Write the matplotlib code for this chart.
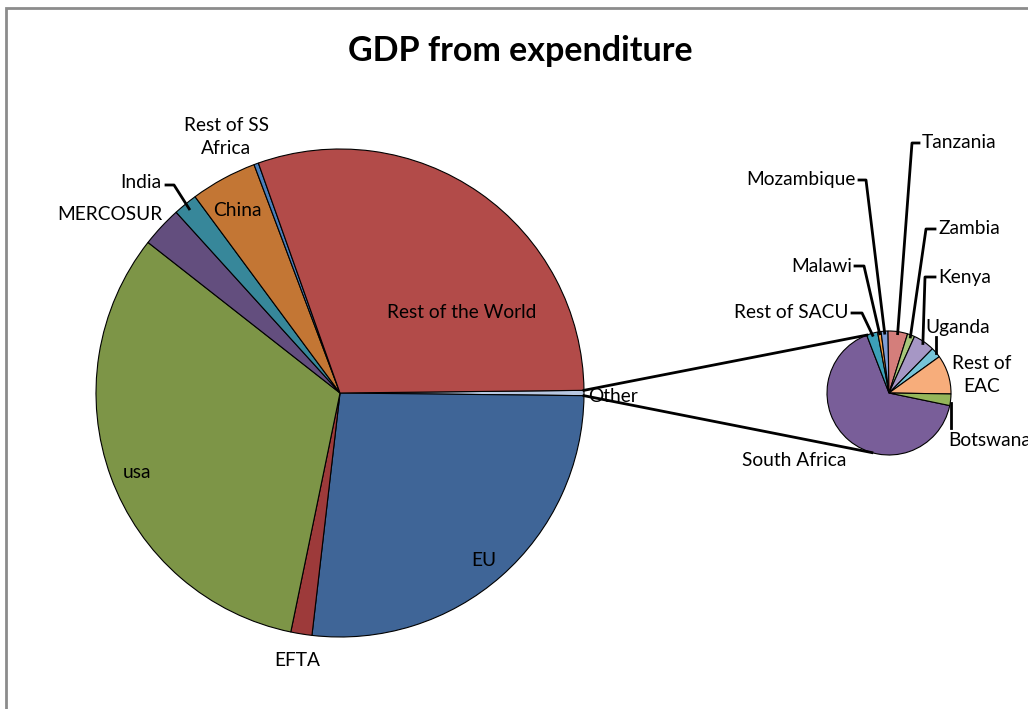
import numpy as np
import matplotlib.pyplot as plt
from matplotlib.patches import Rectangle

plt.rcParams['font.family'] = ['Lato', 'DejaVu Sans']

# Share of world GDP (%), main pie; "Other" is broken out in the small pie
main_labels = ['Other', 'EU', 'EFTA', 'usa', 'MERCOSUR', 'India', 'China',
               'Rest of SS Africa', 'Rest of the World']
main_share = [0.35, 26.7, 1.4, 32.4, 2.7, 1.6, 4.4, 0.3, 30.3]
main_colors = ['#B8C8E2', '#3F6597', '#9D3A3A', '#7D9547', '#634E7E',
               '#37879A', '#C37634', '#4A7EBB', '#B24B49']

# Breakdown of "Other" (% of the group)
sec_labels = ['South Africa', 'Rest of SACU', 'Malawi', 'Mozambique', 'Tanzania',
              'Zambia', 'Kenya', 'Uganda', 'Rest of\nEAC', 'Botswana']
sec_share = [65.9, 2.9, 0.9, 1.8, 5.1, 1.9, 5.6, 2.7, 10.2, 3.0]
sec_colors = ['#795E99', '#3CA0B8', '#F49B3F', '#7E9ED6', '#D47E7B',
              '#A7C67A', '#A697C5', '#76C4D8', '#F7AD7B', '#94B65A']

W, H = 1028, 709
fig = plt.figure(figsize=(W / 100, H / 100), dpi=100)
ax = fig.add_axes([0, 0, 1, 1])


def Y(y):
    # pixel row measured from the top
    return H - y


# chart frame
ax.add_patch(Rectangle((6, Y(1000)), 1100, 1000 - 8, fill=False,
                       edgecolor='#8C8C8C', lw=2))

ax.text(520, Y(51), 'GDP from expenditure', ha='center', va='center',
        fontsize=24.5, fontweight='bold')

# main pie
c1, r1 = (340, Y(393)), 244
start1 = main_share[0] / sum(main_share) * 360 / 2
w1, _ = ax.pie(main_share, colors=main_colors, center=c1, radius=r1,
               startangle=start1, counterclock=False, frame=True,
               wedgeprops=dict(edgecolor='black', linewidth=0.8))

# secondary pie
c2, r2 = (889, Y(393)), 62
w2, _ = ax.pie(sec_share, colors=sec_colors, center=c2, radius=r2,
               startangle=-11.7, counterclock=False, frame=True,
               wedgeprops=dict(edgecolor='black', linewidth=0.8))
ax.set_xlim(0, W)
ax.set_ylim(0, H)
ax.set_aspect('equal')
ax.axis('off')


def edge(c, r, ang):
    a = np.deg2rad(ang)
    return c[0] + r * np.cos(a), c[1] + r * np.sin(a)


LW = 2
# connector lines between "Other" and the small pie
other = w1[0]
for a1, a2 in [(other.theta2, 111), (other.theta1, -106)]:
    x0, y0 = edge(c1, r1, a1)
    x1, y1 = edge(c2, r2, a2)
    ax.plot([x0, x1], [y0, y1], color='black', lw=LW)

fs = 13.8
# labels inside / next to main pie
ax.text(462, Y(313), 'Rest of the World', ha='center', va='center', fontsize=fs)
ax.text(484, Y(561), 'EU', ha='center', va='center', fontsize=fs)
ax.text(137, Y(472), 'usa', ha='center', va='center', fontsize=fs)
ax.text(297, Y(661), 'EFTA', ha='center', va='center', fontsize=fs)
ax.text(237, Y(211), 'China', ha='center', va='center', fontsize=fs)
ax.text(110, Y(214), 'MERCOSUR', ha='center', va='center', fontsize=fs)
ax.text(226, Y(137), 'Rest of SS\nAfrica', ha='center', va='center',
        fontsize=fs, linespacing=1.4)
ax.text(588, Y(397), 'Other', ha='left', va='center', fontsize=fs)
ax.text(161, Y(183), 'India', ha='right', va='center', fontsize=fs)
mid = (w1[5].theta1 + w1[5].theta2) / 2
px, py = edge(c1, r1 - 6, mid)
ax.plot([166, 174, px], [Y(185), Y(185), py], color='black', lw=LW)


def leader(i, knee, tx, ha, txt_y):
    w = w2[i]
    m = (w.theta1 + w.theta2) / 2
    ex, ey = edge(c2, r2 - 2, m)
    hx = tx - 3 if ha == 'left' else tx + 3
    ax.plot([hx, knee, ex], [Y(txt_y), Y(txt_y), ey], color='black', lw=LW)
    ax.text(tx, Y(txt_y), sec_labels[i], ha=ha, va='center', fontsize=fs)


leader(4, 912, 922, 'left', 143)      # Tanzania
leader(3, 866, 856, 'right', 180)     # Mozambique
leader(5, 926, 938, 'left', 229)      # Zambia
leader(2, 864, 852, 'right', 266)     # Malawi
leader(6, 925, 938, 'left', 277)      # Kenya
leader(1, 862, 849, 'right', 313)     # Rest of SACU

ax.text(925, Y(327), sec_labels[7], ha='left', va='center', fontsize=fs)
ex, ey = edge(c2, r2, (w2[7].theta1 + w2[7].theta2) / 2)
ax.plot([ex, ex], [ey, Y(337)], color='black', lw=LW)
ax.text(982, Y(375), sec_labels[8], ha='center', va='center', fontsize=fs,
        linespacing=1.4)
ax.plot([951, 951], [Y(403), Y(428)], color='black', lw=LW)
ax.text(948, Y(441), sec_labels[9], ha='left', va='center', fontsize=fs)
ax.text(794, Y(461), sec_labels[0], ha='center', va='center', fontsize=fs)

fig.savefig('out.png', dpi=100)
